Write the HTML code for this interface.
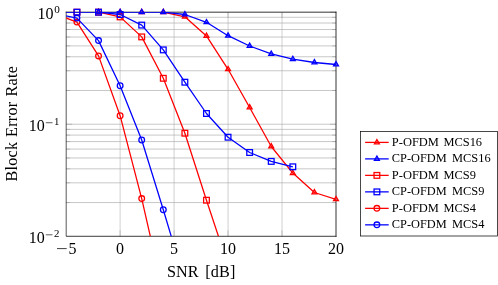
<!DOCTYPE html>
<html><head><meta charset="utf-8"><title>BLER</title>
<style>
html,body{margin:0;padding:0;background:#fff;}
body{width:498px;height:285px;overflow:hidden;position:relative;}
svg text{font-family:"Liberation Serif",serif;fill:#000;}
</style></head><body>
<svg width="498" height="285" viewBox="0 0 498 285" style="position:absolute;left:0;top:0;will-change:transform">
<defs><clipPath id="c"><rect x="66.15" y="12.00" width="269.85" height="224.30"/></clipPath></defs>
<path d="M120.12 12.16V236.30M174.09 12.16V236.30M228.06 12.16V236.30M282.03 12.16V236.30" stroke="#b6b6b6" stroke-width="0.64" fill="none"/>
<path d="M66.15 12.16H336.00M66.15 90.49H336.00M66.15 70.76H336.00M66.15 56.76H336.00M66.15 45.90H336.00M66.15 37.02H336.00M66.15 29.52H336.00M66.15 23.02H336.00M66.15 17.29H336.00M66.15 124.23H336.00M66.15 202.56H336.00M66.15 182.83H336.00M66.15 168.83H336.00M66.15 157.97H336.00M66.15 149.09H336.00M66.15 141.59H336.00M66.15 135.09H336.00M66.15 129.36H336.00M66.15 236.30H336.00" stroke="#a9a9a9" stroke-width="0.64" fill="none"/>
<path d="M120.12 236.30v-6.0M120.12 12.16v6.0M174.09 236.30v-6.0M174.09 12.16v6.0M228.06 236.30v-6.0M228.06 12.16v6.0M282.03 236.30v-6.0M282.03 12.16v6.0M66.15 12.16h6.0M336.00 12.16h-6.0M66.15 90.49h4.0M336.00 90.49h-4.0M66.15 70.76h4.0M336.00 70.76h-4.0M66.15 56.76h4.0M336.00 56.76h-4.0M66.15 45.90h4.0M336.00 45.90h-4.0M66.15 37.02h4.0M336.00 37.02h-4.0M66.15 29.52h4.0M336.00 29.52h-4.0M66.15 23.02h4.0M336.00 23.02h-4.0M66.15 17.29h4.0M336.00 17.29h-4.0M66.15 124.23h6.0M336.00 124.23h-6.0M66.15 202.56h4.0M336.00 202.56h-4.0M66.15 182.83h4.0M336.00 182.83h-4.0M66.15 168.83h4.0M336.00 168.83h-4.0M66.15 157.97h4.0M336.00 157.97h-4.0M66.15 149.09h4.0M336.00 149.09h-4.0M66.15 141.59h4.0M336.00 141.59h-4.0M66.15 135.09h4.0M336.00 135.09h-4.0M66.15 129.36h4.0M336.00 129.36h-4.0" stroke="#808080" stroke-width="0.40" fill="none"/>
<path d="M66.20 12.20V236.30H336.00M66.20 12.20H336.00" fill="none" stroke="#000" stroke-width="0.66" stroke-linecap="square"/>
<path d="M336.00 12.16V236.30" fill="none" stroke="#000" stroke-width="0.8" stroke-linecap="square"/>
<path d="M163.30 12.20 L184.88 16.80 L206.47 35.90 L228.06 69.30 L249.65 107.50 L271.24 146.50 L292.82 173.10 L314.41 192.50 L336.00 199.30" fill="none" stroke="#ff0000" stroke-width="1.28" stroke-linejoin="round" clip-path="url(#c)"/>
<polygon points="98.53,9.35 96.06,13.62 101.00,13.62" fill="#ff0000" fill-opacity="0.35" stroke="#ff0000" stroke-width="1.28" stroke-linejoin="miter"/>
<polygon points="120.12,9.35 117.65,13.62 122.59,13.62" fill="#ff0000" fill-opacity="0.35" stroke="#ff0000" stroke-width="1.28" stroke-linejoin="miter"/>
<polygon points="141.71,9.35 139.24,13.62 144.18,13.62" fill="#ff0000" fill-opacity="0.35" stroke="#ff0000" stroke-width="1.28" stroke-linejoin="miter"/>
<polygon points="163.30,9.35 160.83,13.62 165.76,13.62" fill="#ff0000" fill-opacity="0.35" stroke="#ff0000" stroke-width="1.28" stroke-linejoin="miter"/>
<polygon points="184.88,13.95 182.42,18.23 187.35,18.23" fill="#ff0000" fill-opacity="0.35" stroke="#ff0000" stroke-width="1.28" stroke-linejoin="miter"/>
<polygon points="206.47,33.05 204.00,37.32 208.94,37.32" fill="#ff0000" fill-opacity="0.35" stroke="#ff0000" stroke-width="1.28" stroke-linejoin="miter"/>
<polygon points="228.06,66.45 225.59,70.72 230.53,70.72" fill="#ff0000" fill-opacity="0.35" stroke="#ff0000" stroke-width="1.28" stroke-linejoin="miter"/>
<polygon points="249.65,104.65 247.18,108.92 252.12,108.92" fill="#ff0000" fill-opacity="0.35" stroke="#ff0000" stroke-width="1.28" stroke-linejoin="miter"/>
<polygon points="271.24,143.65 268.77,147.93 273.70,147.93" fill="#ff0000" fill-opacity="0.35" stroke="#ff0000" stroke-width="1.28" stroke-linejoin="miter"/>
<polygon points="292.82,170.25 290.36,174.53 295.29,174.53" fill="#ff0000" fill-opacity="0.35" stroke="#ff0000" stroke-width="1.28" stroke-linejoin="miter"/>
<polygon points="314.41,189.65 311.94,193.93 316.88,193.93" fill="#ff0000" fill-opacity="0.35" stroke="#ff0000" stroke-width="1.28" stroke-linejoin="miter"/>
<polygon points="336.00,196.45 333.53,200.73 338.47,200.73" fill="#ff0000" fill-opacity="0.35" stroke="#ff0000" stroke-width="1.28" stroke-linejoin="miter"/>
<path d="M98.53 12.20 L120.12 12.20 L141.71 12.20 L163.30 12.20 L184.88 14.50 L206.47 22.30 L228.06 35.70 L249.65 46.00 L271.24 53.90 L292.82 59.10 L314.41 62.50 L336.00 64.50" fill="none" stroke="#0000ff" stroke-width="1.28" stroke-linejoin="round" clip-path="url(#c)"/>
<polygon points="98.53,9.35 96.06,13.62 101.00,13.62" fill="#0000ff" fill-opacity="0.35" stroke="#0000ff" stroke-width="1.28" stroke-linejoin="miter"/>
<polygon points="120.12,9.35 117.65,13.62 122.59,13.62" fill="#0000ff" fill-opacity="0.35" stroke="#0000ff" stroke-width="1.28" stroke-linejoin="miter"/>
<polygon points="141.71,9.35 139.24,13.62 144.18,13.62" fill="#0000ff" fill-opacity="0.35" stroke="#0000ff" stroke-width="1.28" stroke-linejoin="miter"/>
<polygon points="163.30,9.35 160.83,13.62 165.76,13.62" fill="#0000ff" fill-opacity="0.35" stroke="#0000ff" stroke-width="1.28" stroke-linejoin="miter"/>
<polygon points="184.88,11.65 182.42,15.93 187.35,15.93" fill="#0000ff" fill-opacity="0.35" stroke="#0000ff" stroke-width="1.28" stroke-linejoin="miter"/>
<polygon points="206.47,19.45 204.00,23.73 208.94,23.73" fill="#0000ff" fill-opacity="0.35" stroke="#0000ff" stroke-width="1.28" stroke-linejoin="miter"/>
<polygon points="228.06,32.85 225.59,37.12 230.53,37.12" fill="#0000ff" fill-opacity="0.35" stroke="#0000ff" stroke-width="1.28" stroke-linejoin="miter"/>
<polygon points="249.65,43.15 247.18,47.42 252.12,47.42" fill="#0000ff" fill-opacity="0.35" stroke="#0000ff" stroke-width="1.28" stroke-linejoin="miter"/>
<polygon points="271.24,51.05 268.77,55.32 273.70,55.32" fill="#0000ff" fill-opacity="0.35" stroke="#0000ff" stroke-width="1.28" stroke-linejoin="miter"/>
<polygon points="292.82,56.25 290.36,60.52 295.29,60.52" fill="#0000ff" fill-opacity="0.35" stroke="#0000ff" stroke-width="1.28" stroke-linejoin="miter"/>
<polygon points="314.41,59.65 311.94,63.92 316.88,63.92" fill="#0000ff" fill-opacity="0.35" stroke="#0000ff" stroke-width="1.28" stroke-linejoin="miter"/>
<polygon points="336.00,61.65 333.53,65.92 338.47,65.92" fill="#0000ff" fill-opacity="0.35" stroke="#0000ff" stroke-width="1.28" stroke-linejoin="miter"/>
<path d="M98.53 12.20 L120.12 16.90 L141.71 36.90 L163.30 78.30 L184.88 133.20 L206.47 200.20 L228.06 265.20" fill="none" stroke="#ff0000" stroke-width="1.28" stroke-linejoin="round" clip-path="url(#c)"/>
<rect x="74.09" y="9.35" width="5.70" height="5.70" fill="none" stroke="#ff0000" stroke-width="1.28"/>
<rect x="95.68" y="9.35" width="5.70" height="5.70" fill="none" stroke="#ff0000" stroke-width="1.28"/>
<rect x="117.27" y="14.05" width="5.70" height="5.70" fill="none" stroke="#ff0000" stroke-width="1.28"/>
<rect x="138.86" y="34.05" width="5.70" height="5.70" fill="none" stroke="#ff0000" stroke-width="1.28"/>
<rect x="160.45" y="75.45" width="5.70" height="5.70" fill="none" stroke="#ff0000" stroke-width="1.28"/>
<rect x="182.03" y="130.35" width="5.70" height="5.70" fill="none" stroke="#ff0000" stroke-width="1.28"/>
<rect x="203.62" y="197.35" width="5.70" height="5.70" fill="none" stroke="#ff0000" stroke-width="1.28"/>
<path d="M55.36 12.20 L76.94 12.20 L98.53 12.20 L120.12 14.50 L141.71 25.10 L163.30 49.90 L184.88 82.20 L206.47 113.50 L228.06 137.20 L249.65 152.50 L271.24 161.40 L292.82 166.80" fill="none" stroke="#0000ff" stroke-width="1.28" stroke-linejoin="round" clip-path="url(#c)"/>
<rect x="74.09" y="9.35" width="5.70" height="5.70" fill="none" stroke="#0000ff" stroke-width="1.28"/>
<rect x="95.68" y="9.35" width="5.70" height="5.70" fill="none" stroke="#0000ff" stroke-width="1.28"/>
<rect x="117.27" y="11.65" width="5.70" height="5.70" fill="none" stroke="#0000ff" stroke-width="1.28"/>
<rect x="138.86" y="22.25" width="5.70" height="5.70" fill="none" stroke="#0000ff" stroke-width="1.28"/>
<rect x="160.45" y="47.05" width="5.70" height="5.70" fill="none" stroke="#0000ff" stroke-width="1.28"/>
<rect x="182.03" y="79.35" width="5.70" height="5.70" fill="none" stroke="#0000ff" stroke-width="1.28"/>
<rect x="203.62" y="110.65" width="5.70" height="5.70" fill="none" stroke="#0000ff" stroke-width="1.28"/>
<rect x="225.21" y="134.35" width="5.70" height="5.70" fill="none" stroke="#0000ff" stroke-width="1.28"/>
<rect x="246.80" y="149.65" width="5.70" height="5.70" fill="none" stroke="#0000ff" stroke-width="1.28"/>
<rect x="268.39" y="158.55" width="5.70" height="5.70" fill="none" stroke="#0000ff" stroke-width="1.28"/>
<rect x="289.97" y="163.95" width="5.70" height="5.70" fill="none" stroke="#0000ff" stroke-width="1.28"/>
<path d="M55.36 14.00 L76.94 22.10 L98.53 55.90 L120.12 115.70 L141.71 198.60 L163.30 293.10" fill="none" stroke="#ff0000" stroke-width="1.28" stroke-linejoin="round" clip-path="url(#c)"/>
<circle cx="76.94" cy="22.10" r="2.85" fill="none" stroke="#ff0000" stroke-width="1.28"/>
<circle cx="98.53" cy="55.90" r="2.85" fill="none" stroke="#ff0000" stroke-width="1.28"/>
<circle cx="120.12" cy="115.70" r="2.85" fill="none" stroke="#ff0000" stroke-width="1.28"/>
<circle cx="141.71" cy="198.60" r="2.85" fill="none" stroke="#ff0000" stroke-width="1.28"/>
<path d="M55.36 13.80 L76.94 18.10 L98.53 40.60 L120.12 85.70 L141.71 140.00 L163.30 209.70 L184.88 281.90" fill="none" stroke="#0000ff" stroke-width="1.28" stroke-linejoin="round" clip-path="url(#c)"/>
<circle cx="76.94" cy="18.10" r="2.85" fill="none" stroke="#0000ff" stroke-width="1.28"/>
<circle cx="98.53" cy="40.60" r="2.85" fill="none" stroke="#0000ff" stroke-width="1.28"/>
<circle cx="120.12" cy="85.70" r="2.85" fill="none" stroke="#0000ff" stroke-width="1.28"/>
<circle cx="141.71" cy="140.00" r="2.85" fill="none" stroke="#0000ff" stroke-width="1.28"/>
<circle cx="163.30" cy="209.70" r="2.85" fill="none" stroke="#0000ff" stroke-width="1.28"/>
<text x="72.50" y="254.0" font-size="16.0" text-anchor="middle">5</text>
<path d="M57.0 248.6H66.7" stroke="#000" stroke-width="0.75"/>
<text x="120.07" y="254.0" font-size="16.0" text-anchor="middle">0</text>
<text x="174.04" y="254.0" font-size="16.0" text-anchor="middle">5</text>
<text x="228.01" y="254.0" font-size="16.0" text-anchor="middle">10</text>
<text x="281.98" y="254.0" font-size="16.0" text-anchor="middle">15</text>
<text x="335.95" y="254.0" font-size="16.0" text-anchor="middle">20</text>
<text x="37.5" y="19.11" font-size="16.0">10</text>
<text x="54.3" y="13.11" font-size="11.2">0</text>
<text x="28.8" y="131.18" font-size="16.0">10</text>
<path d="M45.8 122.73H52.5" stroke="#000" stroke-width="0.64"/>
<text x="54.1" y="125.18" font-size="10.8">1</text>
<text x="28.8" y="243.25" font-size="16.0">10</text>
<path d="M45.8 234.80H52.5" stroke="#000" stroke-width="0.64"/>
<text x="54.1" y="237.25" font-size="10.8">2</text>
<text x="166.9" y="277.4" font-size="16.2" letter-spacing="0.1">SNR</text>
<text x="205.2" y="277.4" font-size="16.2" letter-spacing="0.2">[dB]</text>
<text transform="translate(17.3,181.6) rotate(-90)" font-size="16.2" letter-spacing="0.25">Block</text>
<text transform="translate(17.3,137.0) rotate(-90)" font-size="16.2" letter-spacing="0.25">Error</text>
<text transform="translate(17.3,96.5) rotate(-90)" font-size="16.2" letter-spacing="0.25">Rate</text>
<rect x="360.40" y="131.50" width="137.10" height="104.50" fill="#fff" stroke="#000" stroke-width="0.72"/>
<path d="M365.1 142.40H388.7" stroke="#ff0000" stroke-width="1.28"/>
<polygon points="376.90,139.55 374.43,143.83 379.37,143.83" fill="#ff0000" fill-opacity="0.35" stroke="#ff0000" stroke-width="1.28" stroke-linejoin="miter"/>
<text transform="translate(391.8,145.70) scale(0.968,1)" font-size="12.9">P-OFDM</text>
<text transform="translate(443.45,145.70) scale(0.962,1)" font-size="12.9">MCS16</text>
<path d="M365.1 158.89H388.7" stroke="#0000ff" stroke-width="1.28"/>
<polygon points="376.90,156.04 374.43,160.32 379.37,160.32" fill="#0000ff" fill-opacity="0.35" stroke="#0000ff" stroke-width="1.28" stroke-linejoin="miter"/>
<text transform="translate(391.8,162.19) scale(0.957,1)" font-size="12.9">CP-OFDM</text>
<text transform="translate(452.00,162.19) scale(0.962,1)" font-size="12.9">MCS16</text>
<path d="M365.1 175.38H388.7" stroke="#ff0000" stroke-width="1.28"/>
<rect x="374.05" y="172.53" width="5.70" height="5.70" fill="none" stroke="#ff0000" stroke-width="1.28"/>
<text transform="translate(391.8,178.68) scale(0.968,1)" font-size="12.9">P-OFDM</text>
<text transform="translate(443.45,178.68) scale(0.962,1)" font-size="12.9">MCS9</text>
<path d="M365.1 191.87H388.7" stroke="#0000ff" stroke-width="1.28"/>
<rect x="374.05" y="189.02" width="5.70" height="5.70" fill="none" stroke="#0000ff" stroke-width="1.28"/>
<text transform="translate(391.8,195.17) scale(0.957,1)" font-size="12.9">CP-OFDM</text>
<text transform="translate(452.00,195.17) scale(0.962,1)" font-size="12.9">MCS9</text>
<path d="M365.1 208.36H388.7" stroke="#ff0000" stroke-width="1.28"/>
<circle cx="376.90" cy="208.36" r="2.85" fill="none" stroke="#ff0000" stroke-width="1.28"/>
<text transform="translate(391.8,211.66) scale(0.968,1)" font-size="12.9">P-OFDM</text>
<text transform="translate(443.45,211.66) scale(0.962,1)" font-size="12.9">MCS4</text>
<path d="M365.1 224.85H388.7" stroke="#0000ff" stroke-width="1.28"/>
<circle cx="376.90" cy="224.85" r="2.85" fill="none" stroke="#0000ff" stroke-width="1.28"/>
<text transform="translate(391.8,228.15) scale(0.957,1)" font-size="12.9">CP-OFDM</text>
<text transform="translate(452.00,228.15) scale(0.962,1)" font-size="12.9">MCS4</text>
</svg>
</body></html>
